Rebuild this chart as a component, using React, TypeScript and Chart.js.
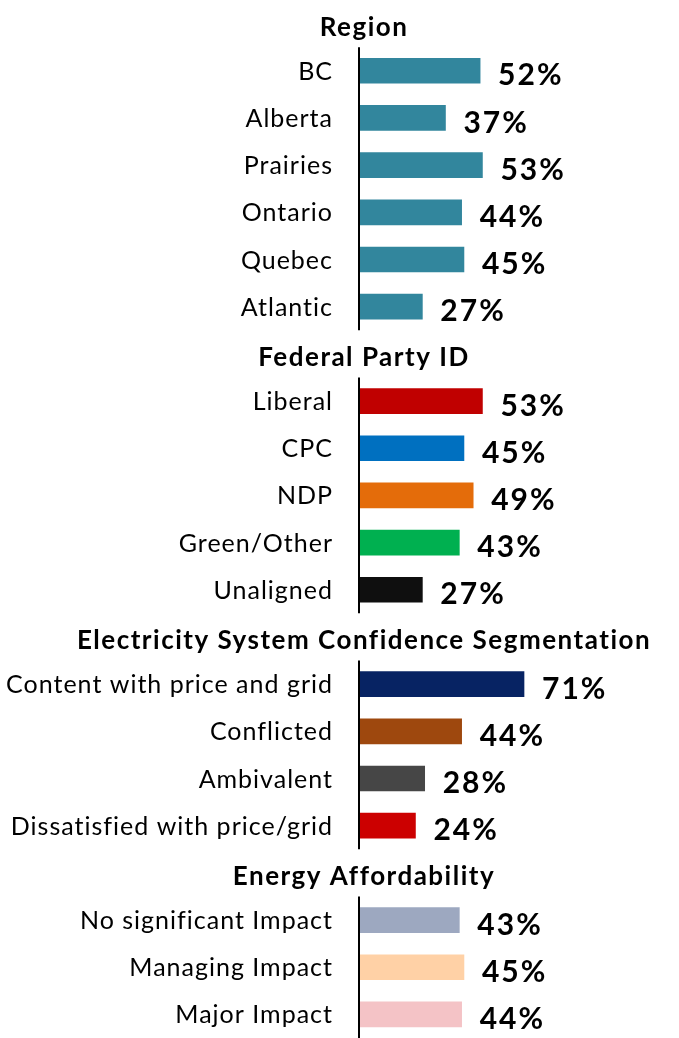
import React, { useEffect, useRef } from "react";
import { Chart, registerables } from "chart.js";

Chart.register(...registerables);

const sections: string[] = [
  "Region",
  "Federal Party ID",
  "Electricity System Confidence Segmentation",
  "Energy Affordability",
];

const regionLabels = ["BC", "Alberta", "Prairies", "Ontario", "Quebec", "Atlantic"];
const regionValues = [52, 37, 53, 44, 45, 27];
const regionColors = ["#32869D", "#32869D", "#32869D", "#32869D", "#32869D", "#32869D"];

const partyLabels = ["Liberal", "CPC", "NDP", "Green/Other", "Unaligned"];
const partyValues = [53, 45, 49, 43, 27];
const partyColors = ["#C00000", "#0070C0", "#E46C0A", "#00B050", "#0F0F0F"];

const confLabels = [
  "Content with price and grid",
  "Conflicted",
  "Ambivalent",
  "Dissatisfied with price/grid",
];
const confValues = [71, 44, 28, 24];
const confColors = ["#072363", "#9E480E", "#464646", "#CC0000"];

const affLabels = ["No significant Impact", "Managing Impact", "Major Impact"];
const affValues = [43, 45, 44];
const affColors = ["#9DA8C0", "#FFD1A6", "#F4C3C6"];

const groups = [
  { labels: regionLabels, values: regionValues, colors: regionColors },
  { labels: partyLabels, values: partyValues, colors: partyColors },
  { labels: confLabels, values: confValues, colors: confColors },
  { labels: affLabels, values: affValues, colors: affColors },
];

const FONT = "Lato, 'Open Sans', sans-serif";

export default function App() {
  const ref = useRef<HTMLCanvasElement | null>(null);

  useEffect(() => {
    if (!ref.current) return;
    const labels: string[] = [];
    const values: (number | null)[] = [];
    const colors: string[] = [];
    const headerIdx: number[] = [];
    const sectionRanges: [number, number][] = [];
    groups.forEach((g, gi) => {
      headerIdx.push(labels.length);
      labels.push(sections[gi]);
      values.push(null);
      colors.push("transparent");
      const start = labels.length;
      g.labels.forEach((l, i) => {
        labels.push(l);
        values.push(g.values[i]);
        colors.push(g.colors[i]);
      });
      sectionRanges.push([start, labels.length - 1]);
    });

    const overlay = {
      id: "overlay",
      afterDatasetsDraw(chart: any) {
        const ctx = chart.ctx;
        const y = chart.scales.y;
        const x = chart.scales.x;
        const area = chart.chartArea;
        const rowH = (area.bottom - area.top) / labels.length;
        ctx.save();
        // axis segments
        ctx.strokeStyle = "#000";
        ctx.lineWidth = 2;
        sectionRanges.forEach(([s, e]) => {
          const top = y.getPixelForValue(s) - rowH / 2;
          const bot = y.getPixelForValue(e) + rowH / 2;
          ctx.beginPath();
          ctx.moveTo(area.left - 1, top);
          ctx.lineTo(area.left - 1, bot);
          ctx.stroke();
        });
        ctx.fillStyle = "#000";
        ctx.textBaseline = "middle";
        // headers
        ctx.textAlign = "center";
        ctx.font = `bold 26px ${FONT}`;
        (ctx as any).letterSpacing = "1.5px";
        headerIdx.forEach((hi) => {
          ctx.fillText(labels[hi], area.left + 4, y.getPixelForValue(hi) + 4);
        });
        // category labels
        ctx.textAlign = "right";
        ctx.font = `25px ${FONT}`;
        (ctx as any).letterSpacing = "1px";
        labels.forEach((l, i) => {
          if (headerIdx.includes(i)) return;
          ctx.fillText(l, area.left - 27, y.getPixelForValue(i) + 1);
        });
        // values
        ctx.textAlign = "left";
        ctx.font = `bold 30px ${FONT}`;
        (ctx as any).letterSpacing = "2px";
        values.forEach((v, i) => {
          if (v == null) return;
          ctx.fillText(`${v}%`, x.getPixelForValue(v) + 18, y.getPixelForValue(i) + 5);
        });
        ctx.restore();
      },
    };

    const chart = new Chart(ref.current, {
      type: "bar",
      data: {
        labels,
        datasets: [
          {
            data: values as any,
            backgroundColor: colors,
            barThickness: 25,
          },
        ],
      },
      options: {
        indexAxis: "y",
        animation: false,
        responsive: false,
        layout: { padding: { left: 0, right: 88, top: 0, bottom: 0 } },
        plugins: { legend: { display: false }, tooltip: { enabled: false } },
        scales: {
          x: { display: false, min: 0, max: 100 },
          y: {
            grid: { display: false },
            border: { display: false },
            ticks: { display: false },
            afterFit(scale: any) {
              scale.width = 360;
              scale.paddingTop = 0;
              scale.paddingBottom = 0;
            },
          },
        },
      },
      plugins: [overlay],
    });
    return () => chart.destroy();
  }, []);

  return (
    <div style={{ position: "absolute", left: 0, top: 0, width: 679, height: 1038, background: "#fff" }}>
      <canvas ref={ref} width={679} height={1038} style={{ display: "block" }} />
    </div>
  );
}
